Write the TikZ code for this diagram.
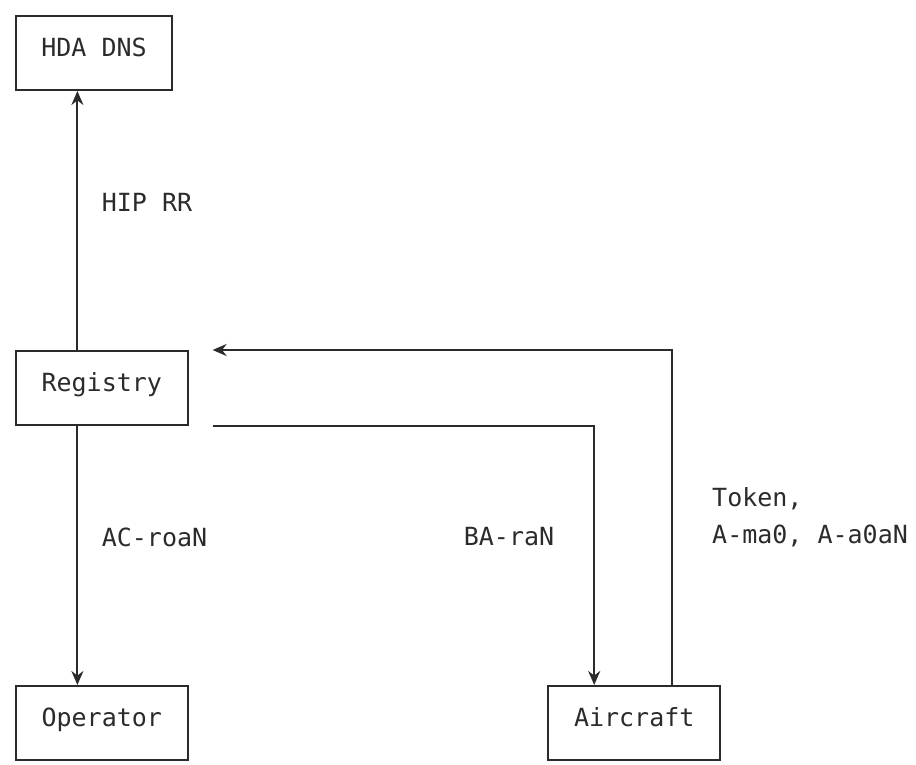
\documentclass[tikz,border=0pt]{standalone}
\usepackage{fontspec}
\setmonofont{DejaVu Sans Mono}
\usepackage{tikz}
\usetikzlibrary{arrows.meta}
\usetikzlibrary{positioning}
\usepackage{xcolor}
\definecolor{ink}{HTML}{2B2B2B}

\begin{document}
\begin{tikzpicture}[
  x=1pt, y=-1pt,
  node distance=259pt and 358.8pt,
  every node/.style={font=\ttfamily\fontsize{25}{37}\selectfont, text=ink},
  >={Stealth[length=14pt, width=12pt]},
  color=ink, line width=2pt,
  box/.style={draw, rectangle, minimum width=171.6pt, minimum height=74pt, inner sep=0pt, text height=0.62em, text depth=0pt},
  lbl/.style={inner sep=0pt, align=left}
]
\useasboundingbox (0,0) rectangle (916,765);

\node [box, minimum width=156pt, anchor=north west] (dns) at (15,15) {HDA DNS};
\node [box, below=of dns.south west, anchor=north west] (reg) {Registry};
\node [box, below=of reg.south west, anchor=north west] (op) {Operator};
\node [box, right=of op] (ac) {Aircraft};

\draw [->] ([xshift=62.4pt]reg.north west) -- node [lbl, pos=0.571, anchor=west, xshift=23.4pt] {HIP RR} ([xshift=62.4pt]dns.south west);
\draw [->] ([xshift=62.4pt]reg.south west) -- node [lbl, pos=0.43, anchor=west, xshift=23.4pt] {AC-roaN} ([xshift=62.4pt]op.north west);
\draw [->, shorten <=24pt] (reg.south east) -| node [lbl, pos=0.714, anchor=east, xshift=-39pt] {BA-raN} ([xshift=46.8pt]ac.north west);

% token path back to the registry
\draw [->, shorten >=24pt] ([xshift=124.8pt]ac.north west) |- node [lbl, pos=0.25, anchor=west, xshift=39pt] {Token,\\A-ma0, A-a0aN} (reg.north east);
\end{tikzpicture}
\end{document}
